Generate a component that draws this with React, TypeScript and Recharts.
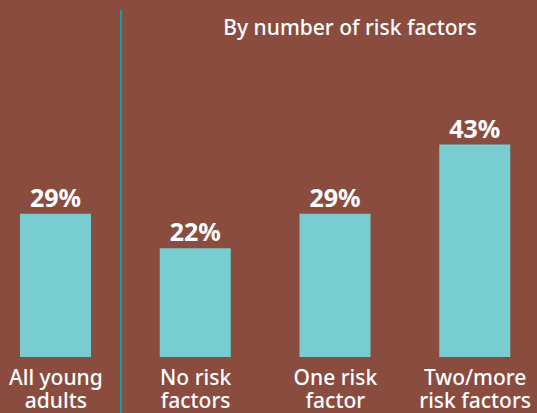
import { BarChart, Bar, XAxis, YAxis, LabelList } from 'recharts';

const categories = ['All young\nadults', 'No risk\nfactors', 'One risk\nfactor', 'Two/more\nrisk factors'];
const shares = [29, 22, 29, 43];
const title = 'By number of risk factors';

const data = categories.map((name, i) => ({ name, share: shares[i] }));

const BG = '#8a4c3f';
const BAR = '#78cdd1';
const DIVIDER = '#0fa1a3';
const FONT = '"Noto Sans", "Open Sans", sans-serif';

const CategoryTick = ({ x, y, payload }: { x?: number; y?: number; payload?: { value: string } }) => {
  const lines = String(payload?.value ?? '').split('\n');
  return (
    <g>
      {lines.map((line, i) => (
        <text
          key={i}
          x={x}
          y={(y ?? 0) + 20 + i * 23}
          textAnchor="middle"
          fill="#ffffff"
          fontSize={21}
          fontWeight={500}
          fontFamily={FONT}
        >
          {line}
        </text>
      ))}
    </g>
  );
};

export default function App() {
  return (
    <div
      style={{
        position: 'absolute',
        left: 0,
        top: 0,
        width: 537,
        height: 413,
        background: BG,
        overflow: 'hidden',
        fontFamily: FONT,
      }}
    >
      <div style={{ position: 'absolute', left: 120, top: 10, width: 2, height: 403, background: DIVIDER }} />
      <div
        style={{
          position: 'absolute',
          left: 180,
          width: 340,
          top: 13,
          textAlign: 'center',
          color: '#ffffff',
          fontSize: 21,
          fontWeight: 500,
          lineHeight: '28px',
        }}
      >
        {title}
      </div>
      <div style={{ position: 'absolute', left: -14, top: 0 }}>
        <BarChart width={559} height={413} data={data} margin={{ top: 110, right: 0, left: 0, bottom: 0 }}>
          <XAxis
            dataKey="name"
            axisLine={false}
            tickLine={false}
            height={56}
            interval={0}
            tick={<CategoryTick />}
          />
          <YAxis hide domain={[0, 50]} />
          <Bar dataKey="share" fill={BAR} barSize={71} isAnimationActive={false}>
            <LabelList
              dataKey="share"
              position="top"
              offset={7}
              formatter={(v: number) => `${v}%`}
              fill="#ffffff"
              fontSize={25}
              fontWeight="bold"
              fontFamily={FONT}
            />
          </Bar>
        </BarChart>
      </div>
    </div>
  );
}
